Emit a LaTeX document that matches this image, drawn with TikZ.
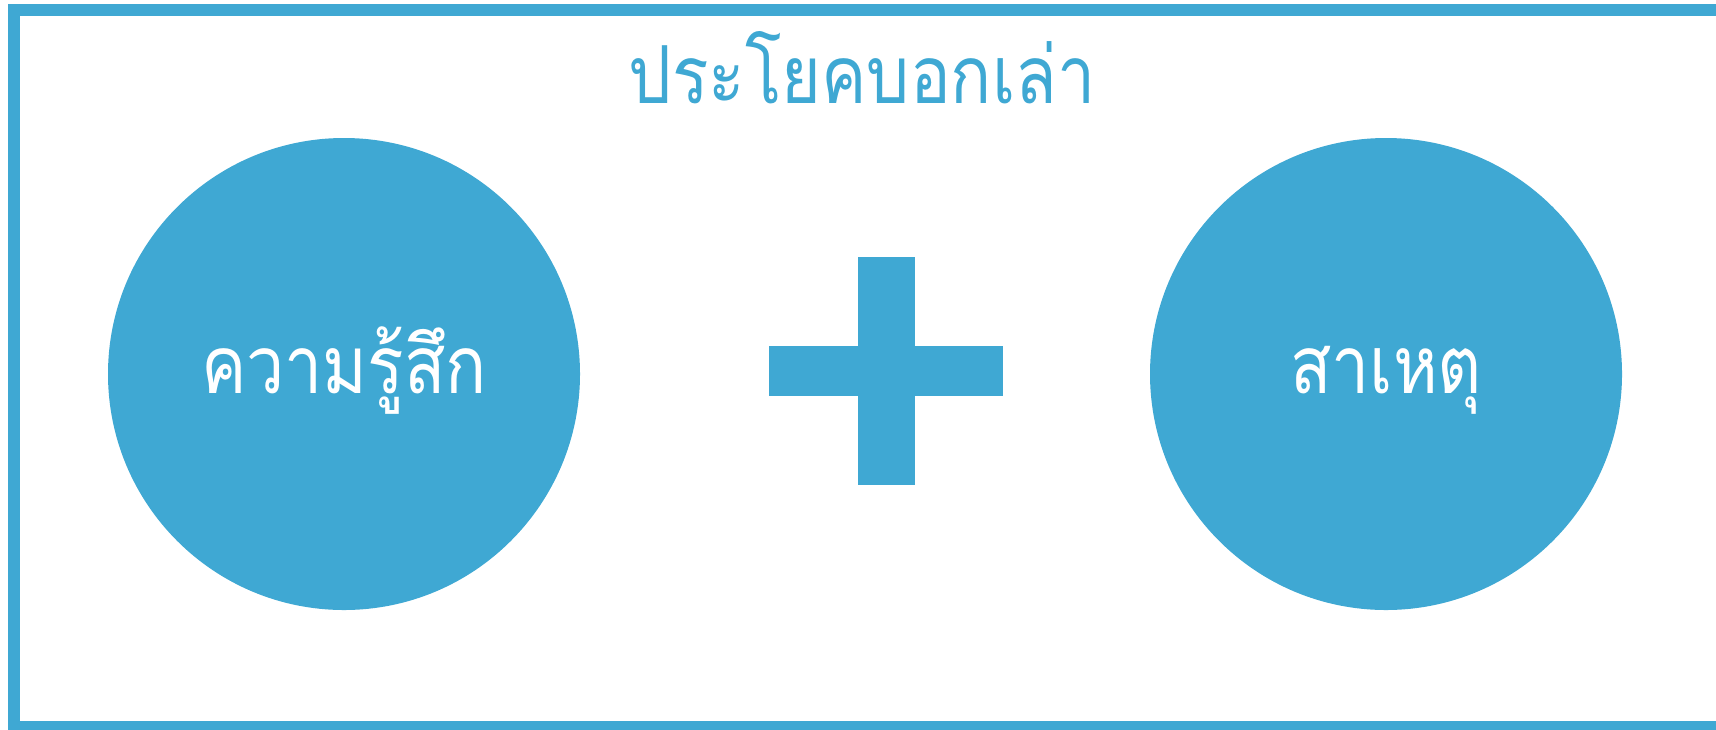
\documentclass[tikz,border=0pt]{standalone}
\usepackage{fontspec}
\newfontfamily\thaifont[Script=Thai,FakeStretch=0.85]{Loma}
\definecolor{mainblue}{RGB}{63,168,211}
\begin{document}
\begin{tikzpicture}[x=0.5pt,y=-0.5pt,
  circ/.style={circle,fill=mainblue,minimum size=236pt,inner sep=0pt},
  lbl/.style={font=\thaifont\fontsize{40}{48}\selectfont,inner sep=0pt,anchor=base}]
\useasboundingbox (0,0) rectangle (1716,729);
\clip (0,0) rectangle (1716,729);
\draw[mainblue,line width=6pt] (14,10) rectangle (1740,727);
\node[lbl,text=mainblue] (t) at (862,103) {ประโยคบอกเล่า};
\node[circ] (a) at (344,374) {};
\node[circ] (b) at (1386,374) {};
\node[lbl,text=white] (ta) at (344,393) {ความรู้สึก};
\node[lbl,text=white] (tb) at (1386,393) {สาเหตุ};
\fill[mainblue] (858,257) rectangle (915,485);
\fill[mainblue] (769,346) rectangle (1003,396);
\end{tikzpicture}
\end{document}
